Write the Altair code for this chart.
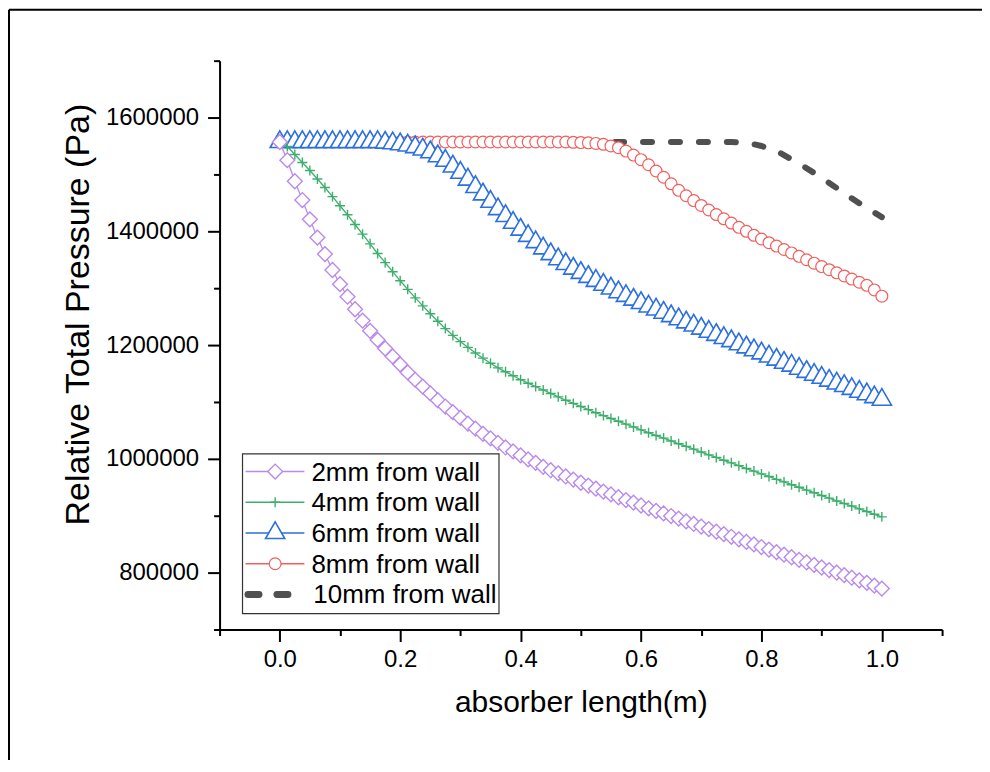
import altair as alt
import pandas as pd

# ---------------- data ----------------
x_m = [0.0, 0.0125, 0.025, 0.0375, 0.05, 0.0625, 0.075, 0.0875,
       0.1, 0.1125, 0.125, 0.1375, 0.15, 0.1625, 0.175, 0.1875,
       0.2, 0.2125, 0.225, 0.2375, 0.25, 0.2625, 0.275, 0.2875,
       0.3, 0.3125, 0.325, 0.3375, 0.35, 0.3625, 0.375, 0.3875,
       0.4, 0.4125, 0.425, 0.4375, 0.45, 0.4625, 0.475, 0.4875,
       0.5, 0.5125, 0.525, 0.5375, 0.55, 0.5625, 0.575, 0.5875,
       0.6, 0.6125, 0.625, 0.6375, 0.65, 0.6625, 0.675, 0.6875,
       0.7, 0.7125, 0.725, 0.7375, 0.75, 0.7625, 0.775, 0.7875,
       0.8, 0.8125, 0.825, 0.8375, 0.85, 0.8625, 0.875, 0.8875,
       0.9, 0.9125, 0.925, 0.9375, 0.95, 0.9625, 0.975, 0.9875,
       1.0]

p_2mm = [1557000, 1525000, 1488000, 1455000, 1421000, 1389000, 1360000, 1332000,
         1307000, 1285000, 1263000, 1243000, 1225000, 1209000, 1194000, 1180000,
         1166000, 1152000, 1139000, 1127000, 1115000, 1103000, 1092000, 1082000,
         1072000, 1062000, 1053000, 1044000, 1036000, 1028000, 1020000, 1013000,
         1006000, 999000, 993000, 986000, 980000, 974500, 969000, 963500,
         958000, 953000, 947500, 942500, 937500, 932500, 927500, 923000,
         918000, 913000, 908500, 904000, 899500, 895000, 890000, 885500,
         881000, 876500, 872000, 867500, 863000, 858500, 854000, 849500,
         845000, 840500, 836000, 831500, 827000, 822500, 818000, 813500,
         809000, 804500, 800000, 795500, 791000, 786500, 782000, 777000,
         772000]

p_4mm = [1557000, 1549000, 1535000, 1521000, 1507000, 1492000, 1477000, 1461000,
         1445000, 1429000, 1412000, 1395000, 1378000, 1361000, 1345000, 1329000,
         1313000, 1298000, 1283000, 1269000, 1255000, 1242000, 1229000, 1217000,
         1206000, 1196000, 1186000, 1177000, 1168000, 1160000, 1153000, 1146000,
         1139000, 1133000, 1127000, 1121000, 1115000, 1109000, 1103000, 1097500,
         1092000, 1086500, 1081000, 1076000, 1071000, 1066000, 1061000, 1056000,
         1051000, 1046000, 1041000, 1036500, 1031500, 1026500, 1022000, 1017000,
         1012000, 1007000, 1002500, 997500, 993000, 988000, 983000, 978500,
         973500, 969000, 964000, 959500, 954500, 950000, 945000, 940500,
         935500, 931000, 926000, 921500, 917000, 912000, 907500, 902500,
         898000]

p_6mm = [1557000, 1557000, 1557000, 1557000, 1557000, 1557000, 1557000, 1557000,
         1557000, 1557000, 1557000, 1557000, 1557000, 1557000, 1556000, 1555000,
         1553000, 1551000, 1548000, 1544000, 1539000, 1532000, 1524000, 1514000,
         1503000, 1491000, 1478000, 1465000, 1452000, 1439000, 1427000, 1415000,
         1403000, 1392000, 1381000, 1370000, 1360000, 1351000, 1342500, 1334500,
         1327000, 1320000, 1313000, 1306000, 1299500, 1293000, 1286500, 1280000,
         1274000, 1268000, 1262500, 1257000, 1251000, 1245500, 1240000, 1234500,
         1229000, 1223500, 1218000, 1212500, 1207000, 1201500, 1196000, 1191000,
         1185500, 1180000, 1174500, 1169000, 1164000, 1158500, 1153000, 1148000,
         1142500, 1137500, 1132500, 1128000, 1123000, 1118000, 1113500, 1108500,
         1104000]

p_8mm = [1557000, 1557000, 1557000, 1557000, 1557000, 1557000, 1557000, 1557000,
         1557000, 1557000, 1557000, 1557000, 1557000, 1557000, 1557000, 1557000,
         1557000, 1557000, 1557000, 1557000, 1557000, 1557000, 1557000, 1557000,
         1557000, 1557000, 1557000, 1557000, 1557000, 1557000, 1557000, 1557000,
         1557000, 1557000, 1557000, 1557000, 1557000, 1557000, 1557000, 1556500,
         1556000, 1555500, 1554500, 1553000, 1550000, 1547000, 1541000, 1534000,
         1526000, 1517000, 1506000, 1495000, 1483500, 1472000, 1462500, 1454000,
         1445500, 1437500, 1429500, 1422000, 1414500, 1407000, 1400000, 1393000,
         1386500, 1380000, 1374000, 1368000, 1362000, 1356000, 1350000, 1344000,
         1338000, 1332500, 1327000, 1321500, 1316000, 1310500, 1305000, 1297000,
         1286000]

p_10mm = [1557000, 1557000, 1557000, 1557000, 1557000, 1557000, 1557000, 1557000,
          1557000, 1557000, 1557000, 1557000, 1557000, 1557000, 1557000, 1557000,
          1557000, 1557000, 1557000, 1557000, 1557000, 1557000, 1557000, 1557000,
          1557000, 1557000, 1557000, 1557000, 1557000, 1557000, 1557000, 1557000,
          1557000, 1557000, 1557000, 1557000, 1557000, 1557000, 1557000, 1557000,
          1557000, 1557000, 1557000, 1557000, 1557000, 1557000, 1557000, 1557000,
          1557000, 1557000, 1557000, 1557000, 1557000, 1557000, 1557000, 1557000,
          1557000, 1557000, 1557000, 1557000, 1557000, 1556500, 1555500, 1553000,
          1550000, 1546000, 1541000, 1534000, 1526500, 1519000, 1511000, 1502500,
          1494000, 1485000, 1476000, 1467000, 1458000, 1449500, 1441000, 1433000,
          1425000]

names = ["2mm from wall", "4mm from wall", "6mm from wall", "8mm from wall", "10mm from wall"]
colors = ["#B98AEE", "#3DAF6C", "#2B6FE0", "#F35D5D", "#505050"]

x_ticks = [-0.1, 0.0, 0.1, 0.2, 0.3, 0.4, 0.5, 0.6, 0.7, 0.8, 0.9, 1.0, 1.1]
y_ticks = [700000, 800000, 900000, 1000000, 1100000, 1200000, 1300000,
           1400000, 1500000, 1600000, 1700000]

# ---------------- styling ----------------
FONT = "Liberation Sans"
PAD_L, PAD_T, W, H = 212, 52, 724, 570
TRI = "M0,-1.155L1,0.577L-1,0.577Z"
PLUS = "M0,-1L0,1M-1,0L1,0"

xs = alt.Scale(domain=[-0.1, 1.1], nice=False, zero=False)
ys = alt.Scale(domain=[700000, 1700000], nice=False, zero=False)

x_major = "abs(datum.value * 5 - round(datum.value * 5)) < 0.001"
y_major = "datum.value % 200000 === 0"

x_axis = alt.Axis(
    values=x_ticks, format=".1f", grid=False,
    labelExpr=f"{x_major} ? datum.label : ''",
    tickSize={"condition": {"test": x_major, "value": 12}, "value": 6},
    tickWidth=2, tickColor="black", domainWidth=2, domainColor="black",
    labelFont=FONT, labelFontSize=24, labelColor="black", labelPadding=6,
    labelFlush=False, labelOverlap=False,
    title="absorber length(m)", titleFont=FONT, titleFontSize=30,
    titleFontWeight="normal", titleColor="black", titlePadding=16,
)
y_axis = alt.Axis(
    values=y_ticks, format="d", grid=False,
    labelExpr=f"{y_major} ? datum.label : ''",
    tickSize={"condition": {"test": y_major, "value": 12}, "value": 6},
    tickWidth=2, tickColor="black", domainWidth=2, domainColor="black",
    labelFont=FONT, labelFontSize=24, labelColor="black", labelPadding=9,
    labelFlush=False, labelOverlap=False,
    title="Relative Total Pressure (Pa)", titleFont=FONT, titleFontSize=34,
    titleFontWeight="normal", titleColor="black", titlePadding=10,
    titleY=254,
)


def frame(vals):
    return pd.DataFrame({"x": x_m, "p": vals})


def enc():
    return dict(
        x=alt.X("x:Q", scale=xs, axis=x_axis),
        y=alt.Y("p:Q", scale=ys, axis=y_axis),
    )


layers = []
# 10 mm: thick dashed line, drawn first (underneath)
layers.append(
    alt.Chart(frame(p_10mm)).mark_line(
        color=colors[4], strokeWidth=6, strokeDash=[9, 19], strokeCap="round"
    ).encode(**enc())
)

marker_specs = {
    3: dict(shape="circle", size=140, strokeWidth=1.2, filled=True, fill="white"),
    2: dict(shape=TRI, size=370, strokeWidth=1.6, filled=True, fill="white"),
    1: dict(shape=PLUS, size=100, strokeWidth=1.4, filled=False),
    0: dict(shape="diamond", size=220, strokeWidth=1.4, filled=True, fill="white"),
}
series_vals = [p_2mm, p_4mm, p_6mm, p_8mm, p_10mm]

for i in [3, 2, 1, 0]:
    d = frame(series_vals[i])
    layers.append(
        alt.Chart(d).mark_line(color=colors[i], strokeWidth=1.3).encode(**enc())
    )
    layers.append(
        alt.Chart(d).mark_point(stroke=colors[i], opacity=1, **marker_specs[i]).encode(**enc())
    )

# ---------------- legend (decoration) ----------------
one = pd.DataFrame({"k": [0]})
LX0, LY0, LX1, LY1 = 23, 394, 280, 554
layers.append(
    alt.Chart(one).mark_rect(fill="white", stroke="#333333", strokeWidth=1.2).encode(
        x=alt.value(LX0), x2=alt.value(LX1), y=alt.value(LY0), y2=alt.value(LY1)
    )
)
for i, name in enumerate(names):
    yy = 411.7 + 30.8 * i
    if i == 4:
        layers.append(
            alt.Chart(one).mark_rule(
                color=colors[i], strokeWidth=7, strokeDash=[11, 18], strokeCap="round"
            ).encode(x=alt.value(28.5), x2=alt.value(72), y=alt.value(yy))
        )
    else:
        layers.append(
            alt.Chart(one).mark_rule(color=colors[i], strokeWidth=1.3).encode(
                x=alt.value(26), x2=alt.value(85), y=alt.value(yy)
            )
        )
        layers.append(
            alt.Chart(one).mark_point(stroke=colors[i], opacity=1, **marker_specs[i]).encode(
                x=alt.value(55.7), y=alt.value(yy)
            )
        )
    layers.append(
        alt.Chart(one).mark_text(
            text=name, align="left", baseline="middle", font=FONT, fontSize=26, color="black"
        ).encode(x=alt.value(92 if i < 4 else 94), y=alt.value(yy + 1))
    )

# ---------------- outer frame (decoration) ----------------
layers.append(
    alt.Chart(one).mark_rule(color="black", strokeWidth=2).encode(
        x=alt.value(1 - PAD_L), y=alt.value(1 - PAD_T), y2=alt.value(760 - PAD_T)
    )
)
layers.append(
    alt.Chart(one).mark_rule(color="black", strokeWidth=2).encode(
        x=alt.value(1 - PAD_L), x2=alt.value(990 - PAD_L), y=alt.value(1 - PAD_T)
    )
)

chart = alt.layer(*layers).properties(
    width=W, height=H,
    padding={"left": PAD_L, "top": PAD_T, "right": 40, "bottom": 130},
    autosize=alt.AutoSizeParams(type="none"),
    background="white",
).configure_view(stroke=None)

chart.save("out.html", embed_options={"renderer": "svg", "actions": False})
